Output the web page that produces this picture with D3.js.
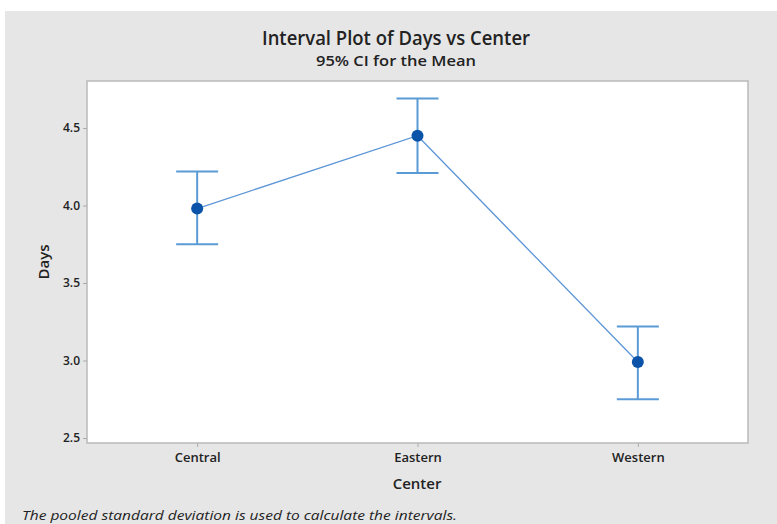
<!DOCTYPE html>
<html>
<head>
<meta charset="utf-8">
<script src="https://cdn.jsdelivr.net/npm/d3@7"></script>
<style>
  html, body { margin: 0; padding: 0; background: #ffffff; }
  svg { display: block; }
  text { font-family: "Open Sans", "Noto Sans", sans-serif; fill: #222; }
</style>
</head>
<body>
<svg id="chart" width="777" height="524"></svg>
<script>
// Interval plot: mean days per center with 95% CI (pooled SD)
const categories = ["Central", "Eastern", "Western"];
const means = [3.98, 4.45, 2.99];
const lowerCI = [3.75, 4.21, 2.75];
const upperCI = [4.22, 4.69, 3.22];
const yTicks = [2.5, 3.0, 3.5, 4.0, 4.5];

const data = categories.map((c, i) => ({ c, mean: means[i], lo: lowerCI[i], hi: upperCI[i] }));

const svg = d3.select("#chart");
const W = 777, H = 524;
const plot = { left: 87, right: 748, top: 81, bottom: 443 };

// Outer gray panel
svg.append("rect").attr("x", 5).attr("y", 11).attr("width", W - 5).attr("height", H - 11)
  .attr("fill", "#e6e6e6");

// Plotting region
svg.append("rect")
  .attr("x", plot.left).attr("y", plot.top)
  .attr("width", plot.right - plot.left).attr("height", plot.bottom - plot.top)
  .attr("fill", "#ffffff").attr("stroke", "#bdbdbd").attr("stroke-width", 1.6);

const x = d3.scalePoint().domain(categories).range([plot.left, plot.right]).padding(0.5);
const y = d3.scaleLinear().domain([2.468, 4.803]).range([plot.bottom, plot.top]);

// Axes
const yAxis = d3.axisLeft(y).tickValues(yTicks).tickFormat(d3.format(".1f")).tickSize(4).tickPadding(3);
const gy = svg.append("g").attr("transform", `translate(${plot.left},0)`).call(yAxis);
gy.select(".domain").remove();
gy.selectAll(".tick line").attr("stroke", "#aaa");
gy.selectAll(".tick text").attr("font-size", 12).attr("font-weight", 600).attr("fill", "#333")
  .attr("font-family", "'Open Sans', sans-serif");

const xAxis = d3.axisBottom(x).tickSize(4).tickPadding(6);
const gx = svg.append("g").attr("transform", `translate(0,${plot.bottom})`).call(xAxis);
gx.select(".domain").remove();
gx.selectAll(".tick line").attr("stroke", "#aaa");
gx.selectAll(".tick text").attr("font-size", 13).attr("font-weight", 600).attr("fill", "#333")
  .attr("font-family", "'Open Sans', sans-serif");

// Connect line through the means
svg.append("path").datum(data)
  .attr("fill", "none").attr("stroke", "#5d95d6").attr("stroke-width", 1.3)
  .attr("d", d3.line().x(d => x(d.c)).y(d => y(d.mean)));

// Error bars
const capHalf = 21;
const bars = svg.append("g").attr("stroke", "#5b9bd5").attr("stroke-width", 2).attr("fill", "none");
bars.selectAll("line.v").data(data).join("line")
  .attr("x1", d => x(d.c)).attr("x2", d => x(d.c))
  .attr("y1", d => y(d.lo)).attr("y2", d => y(d.hi));
bars.selectAll("line.top").data(data).join("line")
  .attr("x1", d => x(d.c) - capHalf).attr("x2", d => x(d.c) + capHalf)
  .attr("y1", d => y(d.hi)).attr("y2", d => y(d.hi));
bars.selectAll("line.bot").data(data).join("line")
  .attr("x1", d => x(d.c) - capHalf).attr("x2", d => x(d.c) + capHalf)
  .attr("y1", d => y(d.lo)).attr("y2", d => y(d.lo));

// Mean markers
svg.append("g").selectAll("circle").data(data).join("circle")
  .attr("cx", d => x(d.c)).attr("cy", d => y(d.mean)).attr("r", 6)
  .attr("fill", "#0a53a8");

// Titles
svg.append("text").attr("x", 396).attr("y", 45).attr("text-anchor", "middle")
  .attr("font-size", 19).attr("font-weight", 600).attr("fill", "#2a2a2a")
  .attr("textLength", 268).attr("lengthAdjust", "spacingAndGlyphs")
  .text("Interval Plot of Days vs Center");
svg.append("text").attr("x", 396).attr("y", 66).attr("text-anchor", "middle")
  .attr("font-size", 15).attr("font-weight", 600).attr("fill", "#2a2a2a")
  .attr("textLength", 160).attr("lengthAdjust", "spacingAndGlyphs")
  .text("95% CI for the Mean");

// Axis titles
svg.append("text").attr("transform", "translate(49,262) rotate(-90)").attr("text-anchor", "middle")
  .attr("font-size", 15).attr("font-weight", 600).text("Days");
svg.append("text").attr("x", 417).attr("y", 489).attr("text-anchor", "middle")
  .attr("font-size", 15).attr("font-weight", 600).text("Center");

// Footnote
svg.append("text").attr("x", 22).attr("y", 520)
  .attr("font-size", 12).attr("font-style", "italic").attr("fill", "#333")
  .attr("textLength", 435).attr("lengthAdjust", "spacingAndGlyphs")
  .text("The pooled standard deviation is used to calculate the intervals.");
</script>
</body>
</html>
